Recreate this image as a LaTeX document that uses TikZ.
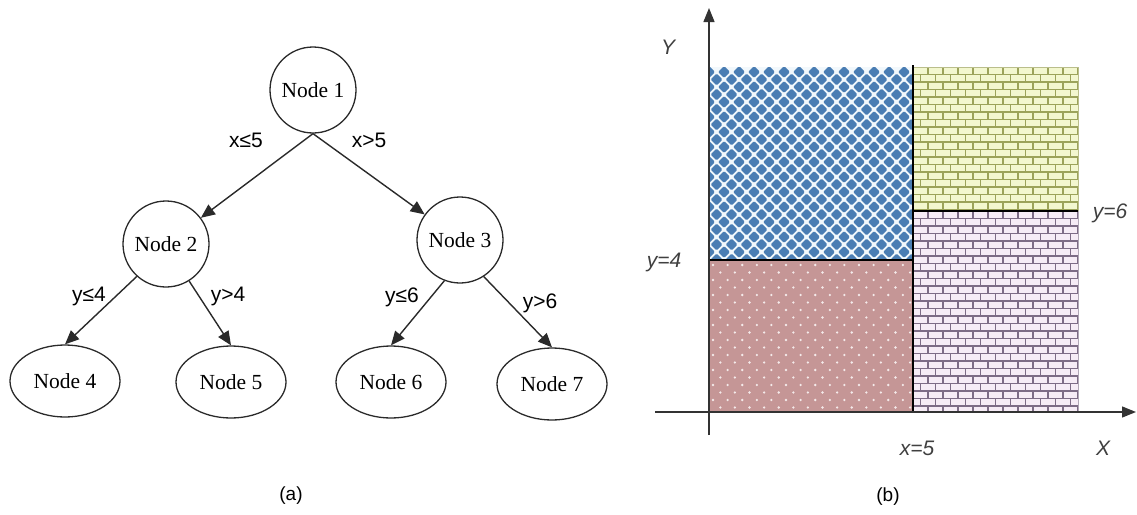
\documentclass[tikz,border=0pt]{standalone}
\usepackage{fontspec}
\setmainfont{Liberation Serif}
\newfontfamily\labelfont{Liberation Sans}
\usetikzlibrary{arrows.meta,shapes.geometric}
\definecolor{edgegray}{HTML}{2A2A2A}
\definecolor{diamondblue}{HTML}{4A7DB3}
\definecolor{diamondback}{HTML}{F2F8FC}
\definecolor{dotrose}{HTML}{C59696}
\definecolor{brickolive}{HTML}{9CA35A}
\definecolor{brickyellow}{HTML}{F3F7CF}
\definecolor{brickplum}{HTML}{7D6C86}
\definecolor{bricklilac}{HTML}{F6ECF6}
\tikzset{
  treenode/.style={circle, draw=edgegray, line width=1.3pt, minimum size=86pt, inner sep=0pt, font=\fontsize{21.5}{24}\selectfont},
  leafnode/.style={ellipse, draw=edgegray, line width=1.3pt, minimum width=110pt, minimum height=72pt, inner sep=0pt, font=\fontsize{21.5}{24}\selectfont},
  treearrow/.style={edgegray, line width=1.4pt, -{Triangle[length=14pt,width=12pt]}},
  edgelabel/.style={font=\labelfont\fontsize{21}{24}\selectfont, inner sep=0pt},
  axisline/.style={black!80, line width=1.3pt, -{Triangle[length=14pt,width=11pt]}},
  splitline/.style={black, line width=2pt},
  axislabel/.style={font=\labelfont\itshape\fontsize{21}{24}\selectfont, text=black!75, inner sep=0pt},
  panellabel/.style={font=\labelfont\fontsize{19}{22}\selectfont, inner sep=0pt}
}
\begin{document}
\begin{tikzpicture}[x=1pt, y=-1pt]
  \useasboundingbox (0,0) rectangle (1137,514);
  % (a) decision tree
  \node[treenode] (n1) at (313,90) {Node 1};
  \node[treenode] (n2) at (166,244) {Node 2};
  \node[treenode] (n3) at (460,240) {Node 3};
  \node[leafnode] (n4) at (65,381) {Node 4};
  \node[leafnode] (n5) at (231,382) {Node 5};
  \node[leafnode] (n6) at (391,382) {Node 6};
  \node[leafnode] (n7) at (552,384) {Node 7};
  \draw[treearrow] (n1.south) -- (n2);
  \draw[treearrow] (n1.south) -- (n3);
  \draw[treearrow] (n2.-132) -- (n4.north);
  \draw[treearrow] (n2.-58) -- (n5.north);
  \draw[treearrow] (n3.-111) -- (n6.north);
  \draw[treearrow] (n3.-57) -- (n7.north);
  \node[edgelabel] (c1) at (246,140) {x≤5};
  \node[edgelabel] (c2) at (369,140) {x>5};
  \node[edgelabel] (c3) at (89,296) {y≤4};
  \node[edgelabel] (c4) at (228,296) {y>4};
  \node[edgelabel] (c5) at (402,297) {y≤6};
  \node[edgelabel] (c6) at (540,303) {y>6};
  \node[panellabel] (capa) at (291,496) {(a)};
  % (b) partition of the plane
  \fill[diamondback] (709,67) rectangle (913,260);
  \begin{scope}
    \clip (709,67) rectangle (913,260);
    \foreach \i in {0,...,14}{
      \foreach \j in {0,...,26}{
        \pgfmathsetmacro{\cx}{709+15*\i+7.5*mod(\j,2)}
        \pgfmathsetmacro{\cy}{72+7.5*\j}
        \fill[diamondblue, rounded corners=1.2pt] (\cx-6,\cy) -- (\cx,\cy-6) -- (\cx+6,\cy) -- (\cx,\cy+6) -- cycle;
      }
    }
  \end{scope}
  \fill[dotrose] (709,260) rectangle (913,412);
  \foreach \i in {0,...,13}{
    \foreach \j in {0,...,19}{
      \pgfmathsetmacro{\cx}{713+14.6*\i+7.3*mod(\j,2)}
      \pgfmathsetmacro{\cy}{265+7.5*\j}
      \fill[white!80!dotrose] (\cx,\cy) circle (1.3pt);
    }
  }
  \fill[brickyellow] (913,67) rectangle (1078,211);
  \begin{scope}[brickolive, line width=1.3pt]
    \clip (913,67) rectangle (1078,211);
    \foreach \j in {0,...,19}{
      \pgfmathsetmacro{\by}{67+7.5*\j}
      \draw (913,\by) -- (1078,\by);
      \foreach \i in {0,...,11}{
        \pgfmathsetmacro{\bx}{913+15*\i+7.5*mod(\j,2)}
        \draw (\bx,\by) -- (\bx,\by+7.5);
      }
    }
  \end{scope}
  \draw[brickolive!70, line width=0.8pt] (913,67) rectangle (1078,211);
  \fill[bricklilac] (913,211) rectangle (1078,412);
  \begin{scope}[brickplum, line width=1.5pt]
    \clip (913,211) rectangle (1078,412);
    \foreach \j in {0,...,27}{
      \pgfmathsetmacro{\by}{211+7.5*\j}
      \draw (913,\by) -- (1078,\by);
      \foreach \i in {0,...,11}{
        \pgfmathsetmacro{\bx}{913+15*\i+7.5*mod(\j,2)}
        \draw (\bx,\by) -- (\bx,\by+7.5);
      }
    }
  \end{scope}
  \draw[brickplum!60, line width=0.8pt] (913,211) rectangle (1078,412);
  \draw[splitline] (709,260) -- (913,260);
  \draw[splitline] (913,65) -- (913,412);
  \draw[splitline] (913,211) -- (1078,211);
  \draw[axisline] (655,412) -- (1136,412);
  \draw[axisline] (709,435) -- (709,8);
  \node[axislabel] (ylab) at (668,47) {Y};
  \node[axislabel] (xlab) at (1103,448) {X};
  \node[axislabel] (y4) at (664,262) {y=4};
  \node[axislabel] (y6) at (1110,213) {y=6};
  \node[axislabel] (x5) at (917,448) {x=5};
  \node[panellabel] (capb) at (888,497) {(b)};
\end{tikzpicture}
\end{document}
